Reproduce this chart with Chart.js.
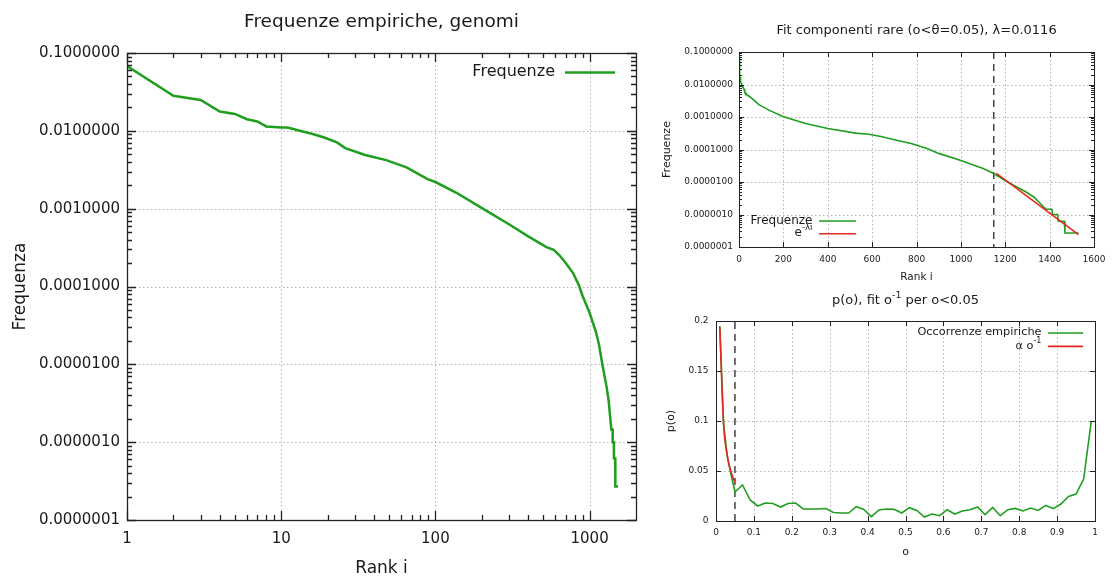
<!DOCTYPE html>
<html>
<head>
<meta charset="utf-8">
<title>Frequenze empiriche, genomi</title>
<script src="https://cdn.jsdelivr.net/npm/chart.js@4.4.1/dist/chart.umd.min.js"></script>
<style>
    html, body { margin: 0; padding: 0; background: #fff; }
    body { width: 1113px; height: 579px; position: relative; overflow: hidden; }
    .box { position: absolute; }
</style>
</head>
<body>
<div class="box" style="left:0;top:0;width:650px;height:579px"><canvas id="mainChart"></canvas></div>
<div class="box" style="left:650px;top:0;width:463px;height:290px"><canvas id="fitChart"></canvas></div>
<div class="box" style="left:650px;top:290px;width:463px;height:289px"><canvas id="occChart"></canvas></div>

<script>
// =====================
// Dati
// =====================
// frequenze empiriche per rank
const ranks = [1, 2, 3, 4, 5, 6, 7, 8, 10, 11, 13, 16, 19, 23, 26, 35, 48, 65, 89, 100,
    137, 198, 300, 400, 525, 585, 640, 700, 780, 850, 900, 1000, 1100, 1150, 1210, 1290,
    1330, 1360, 1384, 1410, 1413, 1436, 1439, 1466, 1469, 1530];
const freqs = [0.068, 0.0282, 0.0249, 0.0177, 0.0165, 0.0141, 0.0132, 0.0114, 0.0110, 0.0110,
    0.0101, 0.0091, 0.0082, 0.0071, 0.0060, 0.0049, 0.0042, 0.0034, 0.0024, 0.0022,
    0.0016, 0.00103, 0.00063, 0.00044, 0.00032, 0.000295, 0.00025, 0.0002, 0.00015, 0.000105,
    7.6e-5, 4.6e-5, 2.6e-5, 1.8e-5, 1.0e-5, 5.1e-6, 3.4e-6, 2.1e-6, 1.45e-6, 1.45e-6,
    1.0e-6, 1.0e-6, 6.2e-7, 6.2e-7, 2.7e-7, 2.7e-7];

// fit esponenziale e^{-λi} delle componenti rare
const fitRanks = [1160, 1530];
const fitFreqs = [1.85e-5, 2.4e-7];
const thetaRank = 1148;

// occorrenze empiriche p(o)
const occO = [0.01, 0.02, 0.03, 0.04, 0.05, 0.07, 0.09, 0.11, 0.13, 0.15, 0.17, 0.19, 0.21,
    0.23, 0.25, 0.27, 0.29, 0.31, 0.33, 0.35, 0.37, 0.39, 0.41, 0.43, 0.45, 0.47, 0.49,
    0.51, 0.53, 0.55, 0.57, 0.59, 0.61, 0.63, 0.65, 0.67, 0.69, 0.71, 0.73, 0.75, 0.77,
    0.79, 0.81, 0.83, 0.85, 0.87, 0.89, 0.91, 0.93, 0.95, 0.97, 0.99];
const occP = [0.195, 0.097, 0.064, 0.046, 0.029, 0.036, 0.021, 0.015, 0.018, 0.0175, 0.014,
    0.0175, 0.018, 0.012, 0.012, 0.012, 0.0125, 0.0085, 0.008, 0.008, 0.0143, 0.0116, 0.0043,
    0.011, 0.012, 0.0116, 0.008, 0.0133, 0.0106, 0.004, 0.007, 0.0053, 0.0113, 0.007, 0.010,
    0.0113, 0.014, 0.0063, 0.0136, 0.0053, 0.0113, 0.0126, 0.010, 0.013, 0.0106, 0.0156,
    0.0123, 0.017, 0.0246, 0.027, 0.042, 0.0993];

// fit α o^{-1} per o < 0.05
const fitO = [0.01, 0.02, 0.03, 0.04, 0.05];
const fitP = [0.194, 0.097, 0.065, 0.0485, 0.039];
const thetaO = 0.05;

// etichette degli assi
const mainXTicks = [1, 10, 100, 1000];
const freqYTicks = [1e-7, 1e-6, 1e-5, 1e-4, 1e-3, 1e-2, 1e-1];
const fitXTicks = [0, 200, 400, 600, 800, 1000, 1200, 1400, 1600];
const occXTicks = [0, 0.1, 0.2, 0.3, 0.4, 0.5, 0.6, 0.7, 0.8, 0.9, 1];
const occYTicks = [0, 0.05, 0.1, 0.15, 0.2];

// =====================
// Stile gnuplot
// =====================
const GREEN = "#1f9e1f";
const RED = "#e8281e";
const TEXT = "#1a1a1a";
const FONT = "DejaVu Sans";

const toXY = (xs, ys) => xs.map((v, i) => ({ x: v, y: ys[i] }));

function logMinor(min, max) {
    const out = [];
    for (let e = Math.floor(Math.log10(min)); e <= Math.ceil(Math.log10(max)); e++) {
        for (let k = 2; k <= 9; k++) {
            const v = k * Math.pow(10, e);
            if (v > min && v < max) out.push(v);
        }
    }
    return out;
}

// testo con apici: parts = [[testo, apice?], ...]
function drawRich(ctx, parts, x, y, size, align) {
    const fontFor = sup => (sup ? size * 0.72 : size) + "px '" + FONT + "'";
    let w = 0;
    parts.forEach(([t, s]) => { ctx.font = fontFor(s); w += ctx.measureText(t).width; });
    let cx = align === "right" ? x - w : align === "center" ? x - w / 2 : x;
    ctx.textAlign = "left";
    ctx.textBaseline = "middle";
    ctx.fillStyle = TEXT;
    parts.forEach(([t, s]) => {
        ctx.font = fontFor(s);
        ctx.fillText(t, cx, s ? y - size * 0.42 : y);
        cx += ctx.measureText(t).width;
    });
}

const gnuFrame = {
    id: "gnuFrame",
    beforeDatasetsDraw(chart, args, o) {
        const { ctx, chartArea: a, scales: { x, y } } = chart;
        ctx.save();
        ctx.strokeStyle = "#b4b4b4";
        ctx.lineWidth = 1;
        ctx.setLineDash([1.5, 2.5]);
        ctx.beginPath();
        x.ticks.forEach(t => {
            const px = Math.round(x.getPixelForValue(t.value)) + 0.5;
            if (px > a.left + 2 && px < a.right - 2) { ctx.moveTo(px, a.top); ctx.lineTo(px, a.bottom); }
        });
        y.ticks.forEach(t => {
            const py = Math.round(y.getPixelForValue(t.value)) + 0.5;
            if (py > a.top + 2 && py < a.bottom - 2) { ctx.moveTo(a.left, py); ctx.lineTo(a.right, py); }
        });
        ctx.stroke();
        ctx.restore();
    },
    afterDatasetsDraw(chart, args, o) {
        const { ctx, chartArea: a, scales: { x, y } } = chart;
        ctx.save();
        ctx.strokeStyle = "#222";
        ctx.lineWidth = o.border;
        ctx.setLineDash([]);
        // tacche interne su tutti i lati
        const xTick = (v, len) => {
            const px = Math.round(x.getPixelForValue(v)) + 0.5;
            ctx.moveTo(px, a.bottom); ctx.lineTo(px, a.bottom - len);
            ctx.moveTo(px, a.top); ctx.lineTo(px, a.top + len);
        };
        const yTick = (v, len) => {
            const py = Math.round(y.getPixelForValue(v)) + 0.5;
            ctx.moveTo(a.left, py); ctx.lineTo(a.left + len, py);
            ctx.moveTo(a.right, py); ctx.lineTo(a.right - len, py);
        };
        ctx.beginPath();
        x.ticks.forEach(t => xTick(t.value, o.major));
        y.ticks.forEach(t => yTick(t.value, o.major));
        (o.xMinor || []).forEach(v => xTick(v, o.minor));
        (o.yMinor || []).forEach(v => yTick(v, o.minor));
        ctx.stroke();
        ctx.strokeRect(Math.round(a.left) + 0.5, Math.round(a.top) + 0.5,
            Math.round(a.right - a.left), Math.round(a.bottom - a.top));

        // titolo centrato sull'area del grafico
        drawRich(ctx, o.title, (a.left + a.right) / 2, o.titleY, o.titleSize, "center");

        // legenda: testo a destra allineato, poi il campione di linea
        const lg = o.legend;
        lg.items.forEach((it, i) => {
            const ds = chart.data.datasets[it.dataset];
            const ly = a[lg.anchorY] + lg.dy + i * lg.rowH;
            const lx = a[lg.anchorX] + lg.dx;
            drawRich(ctx, it.parts, lx, ly, lg.size, "right");
            ctx.beginPath();
            ctx.strokeStyle = ds.borderColor;
            ctx.lineWidth = lg.lineW;
            ctx.moveTo(lx + lg.gap, ly + 0.5);
            ctx.lineTo(lx + lg.gap + lg.lineLen, ly + 0.5);
            ctx.stroke();
        });
        ctx.restore();
    }
};

const tickFont = size => ({ family: FONT, size: size });
const baseOpts = {
    responsive: true,
    maintainAspectRatio: false,
    animation: false,
    devicePixelRatio: 1,
    events: []
};

// =====================
// Grafico principale: frequenze log-log
// =====================
new Chart(document.getElementById("mainChart"), {
    type: "scatter",
    data: {
        datasets: [{
            label: "Frequenze",
            data: toXY(ranks, freqs),
            showLine: true,
            borderColor: GREEN,
            borderWidth: 2.5,
            pointRadius: 0
        }]
    },
    options: {
        ...baseOpts,
        layout: { padding: { top: 53, right: 14, bottom: 0, left: 0 } },
        scales: {
            x: {
                type: "logarithmic", min: 1, max: 2000,
                afterBuildTicks: s => { s.ticks = mainXTicks.map(v => ({ value: v })); },
                afterFit: s => { s.height = 59; },
                ticks: { callback: v => String(v), font: tickFont(15), color: TEXT, padding: 10, maxRotation: 0, autoSkip: false },
                grid: { display: false, drawTicks: false },
                border: { display: false },
                title: { display: true, text: "Rank i", font: tickFont(17), color: TEXT, padding: { top: 0, bottom: 0 } }
            },
            y: {
                type: "logarithmic", min: 1e-7, max: 0.1,
                afterBuildTicks: s => { s.ticks = freqYTicks.map(v => ({ value: v })); },
                afterFit: s => { s.width = 127; },
                ticks: { callback: v => Number(v).toFixed(7), font: tickFont(15), color: TEXT, padding: 7, autoSkip: false },
                grid: { display: false, drawTicks: false },
                border: { display: false },
                title: { display: true, text: "Frequenza", font: tickFont(17), color: TEXT, padding: { top: 10, bottom: 0 } }
            }
        },
        plugins: {
            legend: { display: false },
            tooltip: { enabled: false },
            gnuFrame: {
                border: 1.3, major: 9, minor: 5,
                xMinor: logMinor(1, 2000), yMinor: logMinor(1e-7, 0.1),
                title: [["Frequenze empiriche, genomi"]], titleY: 22.5, titleSize: 18.5,
                legend: {
                    anchorX: "right", anchorY: "top", dx: -81, dy: 19, rowH: 20, size: 16,
                    gap: 10, lineLen: 50, lineW: 2.5,
                    items: [{ dataset: 0, parts: [["Frequenze"]] }]
                }
            }
        }
    },
    plugins: [gnuFrame]
});

// =====================
// Fit componenti rare
// =====================
new Chart(document.getElementById("fitChart"), {
    type: "scatter",
    data: {
        datasets: [{
            label: "e^-λi",
            data: toXY(fitRanks, fitFreqs),
            showLine: true,
            borderColor: RED,
            borderWidth: 1.6,
            pointRadius: 0,
            order: 0
        }, {
            label: "Frequenze",
            data: toXY(ranks, freqs),
            showLine: true,
            borderColor: GREEN,
            borderWidth: 1.6,
            pointRadius: 0,
            order: 1
        }, {
            label: "θ",
            data: [{ x: thetaRank, y: 0.1 }, { x: thetaRank, y: 1e-7 }],
            showLine: true,
            borderColor: "#444",
            borderWidth: 1.5,
            borderDash: [7, 5],
            pointRadius: 0,
            order: 2
        }]
    },
    options: {
        ...baseOpts,
        layout: { padding: { top: 52, right: 16, bottom: 0, left: 0 } },
        scales: {
            x: {
                type: "linear", min: 0, max: 1600,
                afterBuildTicks: s => { s.ticks = fitXTicks.map(v => ({ value: v })); },
                afterFit: s => { s.height = 43; },
                ticks: { callback: v => String(v), font: tickFont(9), color: TEXT, padding: 7.5, maxRotation: 0, autoSkip: false },
                grid: { display: false, drawTicks: false },
                border: { display: false },
                title: { display: true, text: "Rank i", font: tickFont(10.5), color: TEXT, padding: { top: 0, bottom: 6.5 } }
            },
            y: {
                type: "logarithmic", min: 1e-7, max: 0.1,
                afterBuildTicks: s => { s.ticks = freqYTicks.map(v => ({ value: v })); },
                afterFit: s => { s.width = 89; },
                ticks: { callback: v => Number(v).toFixed(7), font: tickFont(9), color: TEXT, padding: 6, autoSkip: false },
                grid: { display: false, drawTicks: false },
                border: { display: false },
                title: { display: true, text: "Frequenze", font: tickFont(11), color: TEXT, padding: { top: 10.5, bottom: 0 } }
            }
        },
        plugins: {
            legend: { display: false },
            tooltip: { enabled: false },
            gnuFrame: {
                border: 1, major: 5, minor: 3,
                yMinor: logMinor(1e-7, 0.1),
                title: [["Fit componenti rare (o<θ=0.05), λ=0.0116"]], titleY: 30.5, titleSize: 13,
                legend: {
                    anchorX: "left", anchorY: "bottom", dx: 73.5, dy: -26.5, rowH: 12.7, size: 12,
                    gap: 6.5, lineLen: 37, lineW: 1.6,
                    items: [
                        { dataset: 1, parts: [["Frequenze"]] },
                        { dataset: 0, parts: [["e"], ["-λi", true]] }
                    ]
                }
            }
        }
    },
    plugins: [gnuFrame]
});

// =====================
// p(o), fit o^-1
// =====================
new Chart(document.getElementById("occChart"), {
    type: "scatter",
    data: {
        datasets: [{
            label: "α o^-1",
            data: toXY(fitO, fitP),
            showLine: true,
            borderColor: RED,
            borderWidth: 1.6,
            cubicInterpolationMode: "monotone",
            pointRadius: 0,
            order: 0
        }, {
            label: "Occorrenze empiriche",
            data: toXY(occO, occP),
            showLine: true,
            borderColor: GREEN,
            borderWidth: 1.6,
            pointRadius: 0,
            order: 1
        }, {
            label: "θ",
            data: [{ x: thetaO, y: 0 }, { x: thetaO, y: 0.2 }],
            showLine: true,
            borderColor: "#444",
            borderWidth: 1.5,
            borderDash: [7, 5],
            pointRadius: 0,
            order: 2
        }]
    },
    options: {
        ...baseOpts,
        layout: { padding: { top: 31, right: 18, bottom: 0, left: 0 } },
        scales: {
            x: {
                type: "linear", min: 0, max: 1,
                afterBuildTicks: s => { s.ticks = occXTicks.map(v => ({ value: v })); },
                afterFit: s => { s.height = 58; },
                ticks: { callback: v => String(v), font: tickFont(9), color: TEXT, padding: 6.5, maxRotation: 0, autoSkip: false },
                grid: { display: false, drawTicks: false },
                border: { display: false },
                title: { display: true, text: "o", font: tickFont(11), color: TEXT, padding: { top: 0, bottom: 20.5 } }
            },
            y: {
                type: "linear", min: 0, max: 0.2,
                afterBuildTicks: s => { s.ticks = occYTicks.map(v => ({ value: v })); },
                afterFit: s => { s.width = 66; },
                ticks: { callback: v => String(v), font: tickFont(9), color: TEXT, padding: 7.5, autoSkip: false },
                grid: { display: false, drawTicks: false },
                border: { display: false },
                title: { display: true, text: "p(o)", font: tickFont(11), color: TEXT, padding: { top: 15, bottom: 0 } }
            }
        },
        plugins: {
            legend: { display: false },
            tooltip: { enabled: false },
            gnuFrame: {
                border: 1, major: 5, minor: 3,
                title: [["p(o), fit o"], ["-1", true], [" per o<0.05"]], titleY: 11, titleSize: 13,
                legend: {
                    anchorX: "right", anchorY: "top", dx: -53.5, dy: 11.5, rowH: 13.4, size: 11.3,
                    gap: 6.5, lineLen: 35, lineW: 1.6,
                    items: [
                        { dataset: 1, parts: [["Occorrenze empiriche"]] },
                        { dataset: 0, parts: [["α o"], ["-1", true]] }
                    ]
                }
            }
        }
    },
    plugins: [gnuFrame]
});
</script>
</body>
</html>
